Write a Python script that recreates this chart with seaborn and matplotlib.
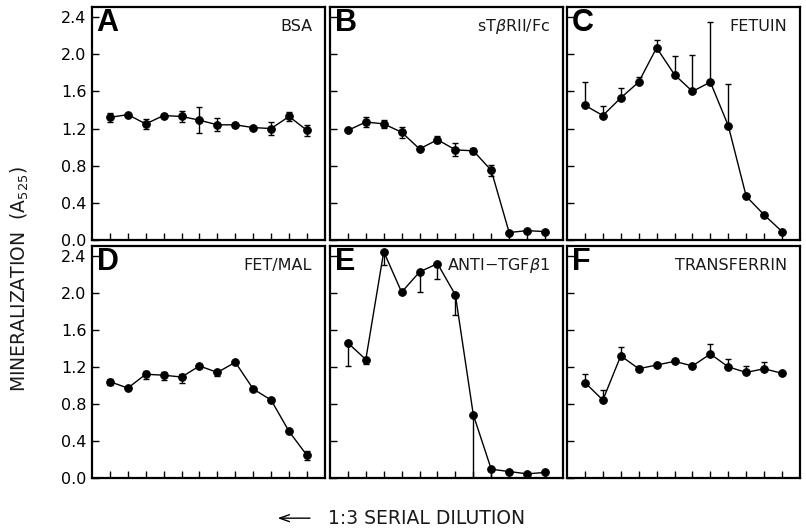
import numpy as np
import matplotlib
matplotlib.use("Agg")
import matplotlib.pyplot as plt
import seaborn as sns

# -----------------------------
# Data
# -----------------------------
steps = [1, 2, 3, 4, 5, 6, 7, 8, 9, 10, 11, 12]  # 1:3 serial dilution steps
yticks = [0.0, 0.4, 0.8, 1.2, 1.6, 2.0, 2.4]

panel_letters = ["A", "B", "C", "D", "E", "F"]
panel_names = ["BSA", r"sT$\beta$RII/Fc", "FETUIN", "FET/MAL", r"ANTI$-$TGF$\beta$1", "TRANSFERRIN"]

bsa_vals = [1.32, 1.35, 1.25, 1.34, 1.33, 1.29, 1.24, 1.24, 1.21, 1.20, 1.33, 1.18]
bsa_lo = [0.05, 0.01, 0.05, 0.02, 0.06, 0.14, 0.07, 0.02, 0.01, 0.07, 0.05, 0.06]
bsa_hi = [0.05, 0.01, 0.05, 0.02, 0.06, 0.14, 0.07, 0.02, 0.01, 0.07, 0.05, 0.06]

stbr_vals = [1.18, 1.27, 1.25, 1.16, 0.98, 1.08, 0.97, 0.96, 0.75, 0.08, 0.10, 0.09]
stbr_lo = [0.0, 0.05, 0.04, 0.06, 0.0, 0.04, 0.07, 0.03, 0.06, 0.01, 0.01, 0.01]
stbr_hi = [0.0, 0.05, 0.04, 0.06, 0.0, 0.04, 0.07, 0.03, 0.06, 0.01, 0.01, 0.01]

fetuin_vals = [1.45, 1.34, 1.53, 1.70, 2.07, 1.78, 1.60, 1.70, 1.23, 0.47, 0.27, 0.09]
fetuin_lo = [0.0] * 12
fetuin_hi = [0.25, 0.10, 0.11, 0.06, 0.08, 0.20, 0.39, 0.65, 0.45, 0.03, 0.0, 0.0]

fetmal_vals = [1.04, 0.97, 1.12, 1.11, 1.09, 1.21, 1.14, 1.25, 0.96, 0.84, 0.50, 0.24]
fetmal_lo = [0.04, 0.01, 0.05, 0.05, 0.07, 0.01, 0.04, 0.01, 0.02, 0.02, 0.01, 0.05]
fetmal_hi = [0.03, 0.01, 0.03, 0.03, 0.03, 0.01, 0.03, 0.01, 0.02, 0.02, 0.01, 0.05]

antitgf_vals = [1.46, 1.28, 2.45, 2.01, 2.23, 2.32, 1.98, 0.68, 0.09, 0.065, 0.04, 0.055]
antitgf_lo = [0.25, 0.05, 0.15, 0.0, 0.22, 0.17, 0.22, 0.68, 0.09, 0.0, 0.0, 0.0]
antitgf_hi = [0.0] * 12

transf_vals = [1.03, 0.84, 1.32, 1.18, 1.22, 1.26, 1.21, 1.34, 1.20, 1.14, 1.18, 1.13]
transf_lo = [0.0] * 12
transf_hi = [0.09, 0.11, 0.10, 0.03, 0.0, 0.0, 0.0, 0.11, 0.09, 0.07, 0.07, 0.0]

all_vals = [bsa_vals, stbr_vals, fetuin_vals, fetmal_vals, antitgf_vals, transf_vals]
all_lo = [bsa_lo, stbr_lo, fetuin_lo, fetmal_lo, antitgf_lo, transf_lo]
all_hi = [bsa_hi, stbr_hi, fetuin_hi, fetmal_hi, antitgf_hi, transf_hi]

# -----------------------------
# Style
# -----------------------------
sns.set_style("ticks", {"axes.edgecolor": "black", "xtick.color": "black", "ytick.color": "black"})
plt.rcParams['font.family'] = ['DejaVu Sans']

fig = plt.figure(figsize=(8.06, 5.32), dpi=100)

lefts = [0.1141, 0.4094, 0.7035]
bottoms = [0.549, 0.1024]
heights = [0.438, 0.435]
width = 0.289

for i in range(6):
    row, col = divmod(i, 3)
    ax = fig.add_axes([lefts[col], bottoms[row], width, heights[row]])

    sns.lineplot(x=steps, y=all_vals[i], ax=ax, color="black", linewidth=1,
                 marker="o", markersize=5.5, markeredgecolor="black", zorder=3)
    ax.errorbar(steps, all_vals[i], yerr=[all_lo[i], all_hi[i]], fmt="none",
                ecolor="black", elinewidth=1, capsize=2.5, capthick=1, zorder=2)

    ax.set_xlim(0, 13)
    ax.set_ylim(0, 2.51)
    ax.set_xticks(steps)
    ax.set_xticklabels([])
    ax.set_yticks(yticks)
    if col == 0:
        ax.set_yticklabels([f"{t:.1f}" for t in yticks], fontsize=11.5, color="#1a1a1a")
    else:
        ax.set_yticklabels([])
    ax.tick_params(direction="in", length=5, width=1, pad=4, colors="black")
    for sp in ax.spines.values():
        sp.set_linewidth(1.6)
        sp.set_color("black")
        sp.set_visible(True)

    ax.text(0.02, 0.995, panel_letters[i], transform=ax.transAxes, fontsize=22,
            fontweight="bold", ha="left", va="top", family="Liberation Sans", color="black")
    ax.text(0.945, 0.915, panel_names[i], transform=ax.transAxes, fontsize=11.5,
            ha="right", va="center", color="#1a1a1a")

fig.text(0.025, 0.476, r"MINERALIZATION  (A$_{525}$)", rotation=90,
         ha="center", va="center", fontsize=13.5, color="#1a1a1a")

fig.text(0.407, 0.026, "1:3 SERIAL DILUTION", ha="left", va="center",
         fontsize=13.5, color="#1a1a1a")
fig.add_artist(matplotlib.patches.FancyArrowPatch(
    (0.388, 0.026), (0.341, 0.026), transform=fig.transFigure,
    arrowstyle="->,head_length=7,head_width=2.5", lw=1, color="black"))

fig.savefig("out.png", dpi=100)
